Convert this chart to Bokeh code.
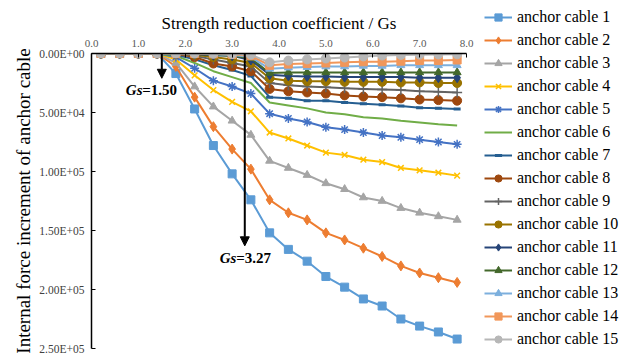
from bokeh.plotting import figure
from bokeh.models import (Range1d, FixedTicker, Legend, LegendItem, Arrow,
                          NormalHead, Label)
from bokeh.embed import file_html
from bokeh.resources import INLINE

# ---------------- data ----------------
gs = [0.2, 0.6, 1.0, 1.4, 1.8, 2.2, 2.6, 3.0, 3.4, 3.8,
      4.2, 4.6, 5.0, 5.4, 5.8, 6.2, 6.6, 7.0, 7.4, 7.8]

cable_1 = [0, 0, 0, 0, 17000, 47000, 78000, 102000, 124000, 152000,
           166000, 176000, 189000, 198000, 208000, 214000, 225000, 231000, 236000, 242000]
cable_2 = [0, 0, 0, 0, 11000, 37000, 62000, 81000, 98000, 124000,
           135000, 141000, 152000, 158000, 165000, 172000, 180000, 186000, 190000, 194000]
cable_3 = [0, 0, 0, 0, 8000, 28000, 45000, 57000, 69000, 91000,
           97000, 103000, 110000, 115000, 122000, 125000, 131000, 135000, 138000, 141000]
cable_4 = [0, 0, 0, 0, 5000, 18500, 31000, 41000, 49000, 67000,
           72000, 78000, 84000, 86000, 90000, 92000, 97000, 99000, 101000, 103500]
cable_5 = [0, 0, 0, 0, 3000, 12500, 23000, 28000, 34000, 51000,
           55000, 58000, 62500, 64500, 67000, 69500, 71000, 73000, 75000, 77000]
cable_6 = [0, 0, 0, 0, 2000, 8000, 15000, 20000, 25000, 41500,
           44000, 46500, 50000, 51500, 54000, 55000, 57000, 58500, 60000, 61000]
cable_7 = [0, 0, 0, 0, 1000, 5000, 10000, 14000, 19000, 37000,
           38000, 40000, 40000, 41500, 42500, 43500, 44500, 46000, 46500, 47000]
cable_8 = [0, 0, 0, 0, 500, 3000, 8500, 11000, 15000, 30000,
           32000, 33000, 34000, 35500, 36500, 37000, 38000, 39000, 39500, 40000]
cable_9 = [0, 0, 0, 0, 0, 2000, 5000, 8000, 11000, 25000,
           27000, 28000, 28500, 29500, 30000, 30500, 31000, 32000, 32500, 33000]
cable_10 = [0, 0, 0, 0, 0, 1000, 3000, 5000, 8000, 21000,
            23000, 23500, 23500, 24000, 24000, 24000, 24500, 24500, 25000, 25000]
cable_11 = [0, 0, 0, 0, 0, 500, 1500, 2000, 5500, 18000,
            19000, 19500, 19500, 20000, 20000, 20000, 20000, 20500, 20500, 20500]
cable_12 = [0, 0, 0, 0, 0, 300, 1000, 2000, 4000, 16500,
            16000, 16000, 16000, 16000, 16000, 16000, 16000, 16000, 16000, 16000]
cable_13 = [0, 0, 0, 0, 0, 200, 600, 1200, 3000, 13000,
            12000, 11500, 11000, 11000, 10500, 10500, 10000, 10000, 10000, 10000]
cable_14 = [0, 0, 0, 0, 0, 0, 300, 800, 2000, 10000,
            9000, 8500, 8000, 7500, 7000, 7000, 6500, 6000, 6000, 5500]
cable_15 = [0, 0, 0, 0, 0, 0, 200, 500, 1000, 7500,
            6000, 5000, 4200, 3400, 2500, 1700, 1200, 1000, 800, 700]

series = [cable_1, cable_2, cable_3, cable_4, cable_5, cable_6, cable_7, cable_8,
          cable_9, cable_10, cable_11, cable_12, cable_13, cable_14, cable_15]
names = ["anchor cable 1", "anchor cable 2", "anchor cable 3", "anchor cable 4",
         "anchor cable 5", "anchor cable 6", "anchor cable 7", "anchor cable 8",
         "anchor cable 9", "anchor cable 10", "anchor cable 11", "anchor cable 12",
         "anchor cable 13", "anchor cable 14", "anchor cable 15"]

x_ticks = [0, 1, 2, 3, 4, 5, 6, 7, 8]
x_tick_labels = ["0.0", "1.0", "2.0", "3.0", "4.0", "5.0", "6.0", "7.0", "8.0"]
y_ticks = [0, 50000, 100000, 150000, 200000, 250000]
y_tick_labels = ["0.00E+00", "5.00E+04", "1.00E+05", "1.50E+05", "2.00E+05", "2.50E+05"]

gs_start = 1.50
gs_fail = 3.27

# ---------------- styles ----------------
colors = ["#5B9BD5", "#ED7D31", "#A5A5A5", "#FFC000", "#4472C4", "#70AD47",
          "#255E91", "#9E480E", "#636363", "#997300", "#264478", "#43682B",
          "#7CAFDD", "#F1975A", "#B7B7B7"]
markers = ["square", "diamond", "triangle", "x", "asterisk", None,
           "dash", "circle", "cross", "circle", "diamond", "triangle",
           "triangle", "square", "circle"]
msizes = [8, 10, 8, 8, 9, 0, 7, 9, 10, 9, 10, 8, 8, 8, 9]

FONT = "Liberation Serif"

p = figure(frame_width=375, frame_height=295,
           x_range=Range1d(0, 8), y_range=Range1d(250000, 0),
           x_axis_location="above",
           output_backend="svg", toolbar_location=None,
           min_border_left=91, min_border_right=150,
           min_border_top=53, min_border_bottom=8)
p.outline_line_color = None
p.xgrid.visible = False
p.ygrid.visible = False

# x axis (top)
xa = p.xaxis[0]
xa.ticker = FixedTicker(ticks=x_ticks)
xa.major_label_overrides = {t: l for t, l in zip(x_ticks, x_tick_labels)}
xa.axis_label = "Strength reduction coefficient / Gs"
xa.axis_label_text_font = FONT
xa.axis_label_text_font_size = "17px"
xa.axis_label_text_font_style = "normal"
xa.axis_label_text_color = "black"
xa.axis_label_standoff = 4
xa.major_label_text_font = FONT
xa.major_label_text_font_size = "11px"
xa.major_label_text_color = "#595959"
xa.major_label_standoff = 7
xa.major_tick_in = 4
xa.major_tick_out = 0
xa.minor_tick_line_color = None
xa.axis_line_color = "black"
xa.axis_line_width = 1.5
xa.major_tick_line_color = "black"

# y axis (left)
ya = p.yaxis[0]
ya.ticker = FixedTicker(ticks=y_ticks)
ya.major_label_overrides = {t: l for t, l in zip(y_ticks, y_tick_labels)}
ya.axis_label = "Internal force increment of anchor cable"
ya.axis_label_text_font = FONT
ya.axis_label_text_font_size = "19px"
ya.axis_label_text_font_style = "normal"
ya.axis_label_text_color = "black"
ya.axis_label_standoff = 2
ya.major_label_text_font = FONT
ya.major_label_text_font_size = "11.5px"
ya.major_label_text_color = "#404040"
ya.major_label_standoff = 7
ya.major_tick_in = 4
ya.major_tick_out = 0
ya.minor_tick_line_color = None
ya.axis_line_color = "black"
ya.axis_line_width = 1.5
ya.major_tick_line_color = "black"


def marker_lw(m):
    if m == "dash":
        return 3
    if m in ("x", "asterisk", "cross"):
        return 1.5
    return 1


items = []
for vals, name, c, m, s in zip(series, names, colors, markers, msizes):
    rs = [p.line(gs, vals, line_color=c, line_width=2)]
    if m is not None:
        rs.append(p.scatter(gs, vals, marker=m, size=s, fill_color=c,
                            line_color=c, line_width=marker_lw(m)))
    items.append(LegendItem(label=name, renderers=rs))

legend = Legend(items=items, location=(18, -2),
                border_line_color=None, background_fill_alpha=0,
                glyph_width=28, glyph_height=18, label_standoff=5,
                label_height=23, spacing=0, padding=0, margin=0,
                label_text_font=FONT, label_text_font_size="16px",
                label_text_color="black", label_text_baseline="middle")
p.add_layout(legend, "right")

# annotations
p.add_layout(Arrow(x_start=gs_start, y_start=0, x_end=gs_start, y_end=21000,
                   line_width=2, line_color="black",
                   end=NormalHead(size=9, fill_color="black", line_color="black")))
p.add_layout(Arrow(x_start=gs_fail, y_start=0, x_end=gs_fail, y_end=163000,
                   line_width=2, line_color="black",
                   end=NormalHead(size=9, fill_color="black", line_color="black")))

for xv, yv, off, num in [(gs_start, 31000, -36, "=1.50"), (gs_fail, 173000, -25, "=3.27")]:
    p.add_layout(Label(x=xv, y=yv, x_offset=off, text="Gs", text_font=FONT,
                       text_font_size="15px", text_font_style="bold italic",
                       text_align="left", text_baseline="middle", text_color="black"))
    p.add_layout(Label(x=xv, y=yv, x_offset=off + 16.5, text=num, text_font=FONT,
                       text_font_size="15px", text_font_style="bold",
                       text_align="left", text_baseline="middle", text_color="black"))

open("out.html", "w").write(file_html(p, INLINE))
